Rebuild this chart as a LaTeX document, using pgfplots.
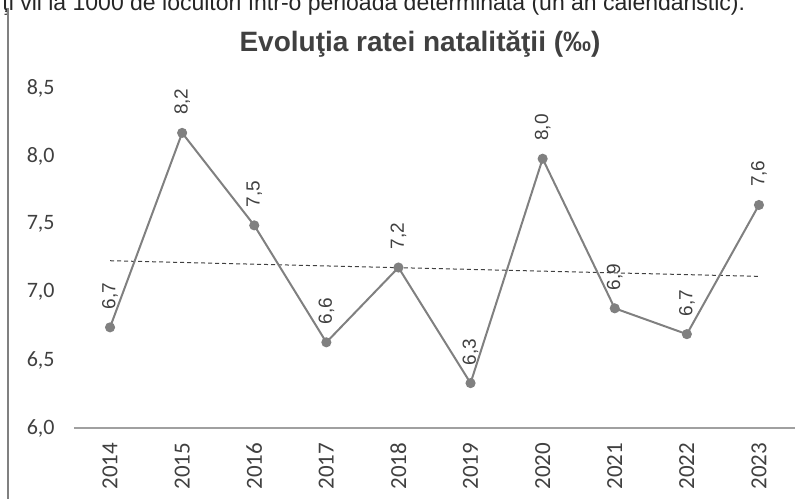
\documentclass[border=0pt]{standalone}
\usepackage{fontspec}
\setmainfont{Liberation Sans}
\newfontfamily\carlito{Carlito}
\usepackage{pgfplots}
\pgfplotsset{compat=1.18}

\definecolor{linegray}{RGB}{128,128,128}
\definecolor{txtgray}{RGB}{64,64,64}
\definecolor{axgray}{RGB}{160,160,160}

\begin{document}
\begin{tikzpicture}
	\begin{axis}[
		scale only axis,
		width=360.5pt,
		height=170pt,
		xmin=-0.5, xmax=9.5,
		ymin=6, ymax=8.5,
		xtick={0,...,9},
		xticklabels={2014,2015,2016,2017,2018,2019,2020,2021,2022,2023},
		ytick={6,6.5,...,8.5},
		axis lines*=left,
		x axis line style={-, draw=axgray, line width=0.6pt},
		y axis line style={draw=none},
		tick style={draw=none},
		major tick length=0pt,
		/pgf/number format/assume math mode=true,
		/pgf/number format/.cd, fixed, fixed zerofill, precision=1, use comma,
		/pgfplots/.cd,
		yticklabel style={font=\carlito\fontsize{11}{13}\selectfont, text=txtgray, anchor=east, inner sep=0pt, xshift=-9.5pt},
		xticklabel style={font=\carlito\fontsize{11.5}{13}\selectfont, text=txtgray, rotate=90, anchor=east, inner sep=0pt, outer xsep=7.5pt},
		clip=false
		]
		% trend line
		\addplot[dashed, dash pattern=on 2pt off 1.5pt, color=txtgray, line width=0.5pt]
		coordinates {(0,7.23) (9,7.115)};
		% birth rate
		\addplot[
		color=linegray, line width=1pt,
		mark=*, mark size=2pt, mark options={fill=linegray, draw=linegray},
		nodes near coords,
		every node near coord/.append style={font=\fontsize{9.5}{10}\selectfont, text=txtgray, rotate=90, anchor=west, inner sep=0pt, outer xsep=9pt}
		]
		coordinates {
			(0,6.74) (1,8.17) (2,7.49) (3,6.63) (4,7.18)
			(5,6.33) (6,7.98) (7,6.88) (8,6.69) (9,7.64)
		};
	\end{axis}
	\node[anchor=base, font=\bfseries\fontsize{14}{16}\selectfont, text=txtgray, inner sep=0pt] at (173pt,188pt) {Evoluţia ratei natalităţii (‰)};
	\node[anchor=base west, font=\fontsize{11.5}{13}\selectfont, text=black!85, inner sep=0pt] at (-36pt,208.75pt) {ţi vii la 1000 de locuitori într-o perioadă determinată (un an calendaristic).};
	\draw[linegray, line width=0.7pt] (-33pt,210pt) -- (-33pt,-40pt);
	\pgfresetboundingbox
	\useasboundingbox (-37pt,-35.5pt) rectangle (368.5pt,214pt);
\end{tikzpicture}
\end{document}
